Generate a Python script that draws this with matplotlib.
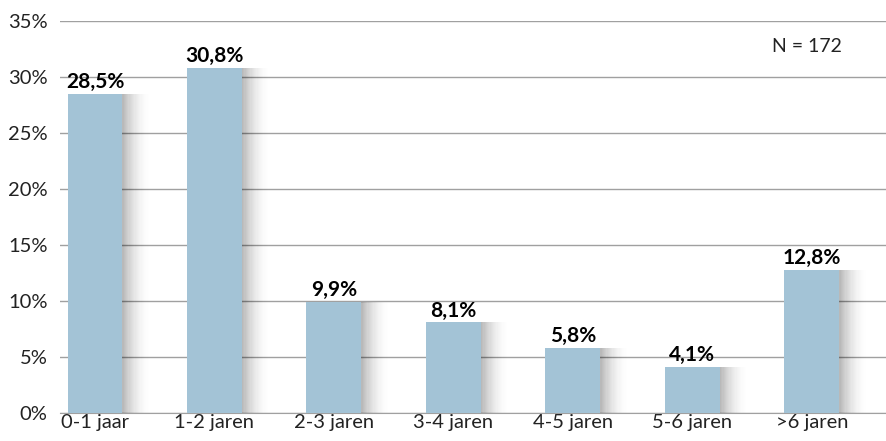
import numpy as np
import matplotlib.pyplot as plt
from matplotlib.ticker import FuncFormatter

# data
categories = ['0-1 jaar', '1-2 jaren', '2-3 jaren', '3-4 jaren', '4-5 jaren', '5-6 jaren', '>6 jaren']
values = [28.5, 30.8, 9.9, 8.1, 5.8, 4.1, 12.8]
labels = ['28,5%', '30,8%', '9,9%', '8,1%', '5,8%', '4,1%', '12,8%']
n_text = 'N = 172'

bar_color = '#a3c3d6'
plt.rcParams['font.family'] = ['Lato', 'DejaVu Sans']

fig = plt.figure(figsize=(8.86, 4.41), dpi=100)
ax = fig.add_axes([60 / 886, 28 / 441, 826 / 886, 392 / 441])

x = np.arange(len(categories))
width = 0.46

# soft shadow to the right of each bar, fading out
for k in range(24):
    off = 0.01 * (k + 1)
    ax.bar(x + off, values, width=width, color='#000000',
           alpha=0.022 * (1 - k / 24.0), zorder=1, linewidth=0)

ax.bar(x, values, width=width, color=bar_color, zorder=3, linewidth=0)

for xi, v, lab in zip(x, values, labels):
    ax.text(xi, v + 0.15, lab, ha='center', va='bottom', fontsize=15, fontweight='bold', color='black', zorder=4)

ax.text(0.947, 0.935, n_text, transform=ax.transAxes, ha='right', va='center', fontsize=14, color='#222222')

ax.set_ylim(0, 35)
ax.set_yticks(np.arange(0, 36, 5))
ax.yaxis.set_major_formatter(FuncFormatter(lambda v, p: '%d%%' % v))
ax.set_xlim(-0.293, 6.62)
ax.set_xticks(x)
ax.set_xticklabels(categories)
ax.grid(axis='y', color='#a0a0a0', linewidth=1, zorder=0)
ax.set_axisbelow(True)

for s in ['top', 'right', 'left']:
    ax.spines[s].set_visible(False)
ax.spines['bottom'].set_color('#a0a0a0')
ax.tick_params(axis='both', length=0, labelsize=14.5, colors='#222222')
ax.tick_params(axis='y', pad=9)
ax.tick_params(axis='x', pad=1)

fig.savefig('out.png', dpi=100)
